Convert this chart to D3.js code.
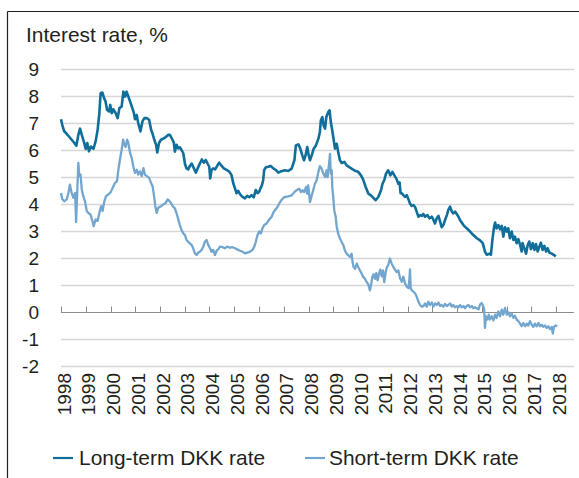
<!DOCTYPE html>
<html><head><meta charset="utf-8">
<script src="https://cdn.jsdelivr.net/npm/d3@7"></script>
<style>body{margin:0;background:#fff}svg{display:block}text{font-family:"Liberation Sans",Arial,sans-serif;fill:#231f20}</style>
</head><body>
<script>
const title = "Interest rate, %";
const seriesNames = ["Long-term DKK rate", "Short-term DKK rate"];
const yTicks = [-2, -1, 0, 1, 2, 3, 4, 5, 6, 7, 8, 9];
const xTickYears = [1998,1999,2000,2001,2002,2003,2004,2005,2006,2007,2008,2009,2010,2011,2012,2013,2014,2015,2016,2017,2018];

const longYears = [1998.00,1998.05,1998.13,1998.23,1998.32,1998.43,1998.54,1998.62,1998.70,1998.77,1998.84,1998.92,1999.00,1999.06,1999.13,1999.21,1999.31,1999.40,1999.48,1999.55,1999.60,1999.67,1999.74,1999.80,1999.86,1999.94,1999.99,2000.05,2000.11,2000.21,2000.29,2000.36,2000.45,2000.52,2000.59,2000.65,2000.72,2000.79,2000.86,2000.94,2000.99,2001.06,2001.12,2001.21,2001.29,2001.37,2001.46,2001.56,2001.64,2001.70,2001.77,2001.84,2001.89,2001.96,2002.04,2002.13,2002.23,2002.34,
2002.40,2002.51,2002.56,2002.60,2002.67,2002.74,2002.80,2002.87,2002.94,2003.01,2003.07,2003.14,2003.21,2003.28,2003.37,2003.45,2003.52,2003.61,2003.69,2003.77,2003.85,2003.92,2003.99,2004.03,2004.08,2004.15,2004.23,2004.31,2004.39,2004.49,2004.58,2004.69,2004.80,2004.89,2004.96,2005.03,2005.09,2005.16,2005.23,2005.32,2005.43,2005.52,2005.61,2005.70,2005.79,2005.87,2005.94,2006.01,2006.06,2006.12,2006.17,2006.21,2006.28,2006.37,2006.47,2006.58,2006.68,2006.78,2006.87,2006.98,
2007.05,2007.18,2007.32,2007.43,2007.49,2007.59,2007.67,2007.75,2007.82,2007.88,2007.95,2008.01,2008.06,2008.13,2008.21,2008.30,2008.40,2008.46,2008.50,2008.56,2008.61,2008.67,2008.72,2008.80,2008.85,2008.91,2008.96,2009.02,2009.07,2009.14,2009.20,2009.27,2009.34,2009.45,2009.54,2009.68,2009.81,2009.90,2010.01,2010.12,2010.21,2010.31,2010.42,2010.52,2010.62,2010.71,2010.82,2010.93,2010.99,2011.06,2011.13,2011.22,2011.31,2011.39,2011.47,2011.55,2011.63,2011.68,
2011.72,2011.77,2011.83,2011.90,2011.97,2012.04,2012.10,2012.17,2012.24,2012.31,2012.37,2012.44,2012.51,2012.58,2012.64,2012.71,2012.80,2012.89,2012.98,2013.05,2013.11,2013.18,2013.25,2013.32,2013.38,2013.45,2013.52,2013.59,2013.65,2013.72,2013.79,2013.85,2013.92,2013.99,2014.06,2014.12,2014.26,2014.39,2014.53,2014.66,2014.80,
2014.93,2015.04,2015.13,2015.20,2015.31,2015.37,2015.43,2015.50,2015.54,2015.60,2015.67,2015.74,2015.81,2015.87,2015.94,2016.01,2016.07,2016.14,2016.21,2016.28,2016.34,2016.41,2016.48,2016.55,2016.61,2016.65,2016.72,2016.79,2016.86,2016.92,2016.99,2017.06,2017.13,2017.19,2017.26,2017.33,2017.39,2017.46,2017.53,2017.60,2017.66,2017.73,2017.83,2017.92,2017.99];
const longValues = [7.14,6.93,6.69,6.60,6.50,6.38,6.26,6.16,6.56,6.79,6.56,6.32,6.04,6.26,5.95,6.13,6.04,6.32,6.75,7.36,8.10,8.13,7.92,7.80,7.49,7.43,7.67,7.36,7.51,7.36,7.18,7.55,7.61,8.16,7.98,8.16,7.98,7.80,7.61,7.39,7.14,7.30,7.00,6.69,7.06,7.18,7.18,7.12,6.75,6.60,6.38,6.20,5.91,6.26,6.38,6.42,6.48,6.56,
6.56,6.37,6.27,5.94,6.19,6.06,6.10,6.00,5.88,5.48,5.32,5.28,5.41,5.50,5.32,5.16,5.32,5.50,5.65,5.53,5.63,5.50,5.38,4.95,5.26,5.32,5.28,5.41,5.53,5.41,5.32,5.26,5.20,5.07,4.77,4.58,4.40,4.49,4.37,4.27,4.21,4.30,4.25,4.33,4.25,4.52,4.40,4.46,4.58,4.70,4.89,5.26,5.36,5.38,5.41,5.32,5.26,5.16,5.20,5.23,
5.25,5.22,5.31,5.62,6.17,6.21,6.05,5.80,5.62,5.80,6.11,5.80,5.62,5.80,6.05,6.17,6.42,6.67,7.10,7.22,6.91,6.79,7.22,7.41,7.47,6.98,6.73,6.36,6.05,6.23,5.93,5.62,5.52,5.56,5.43,5.35,5.27,5.22,5.19,5.06,4.90,4.63,4.38,4.32,4.23,4.14,4.26,4.51,4.75,4.88,5.12,5.25,5.06,5.19,5.06,4.94,4.75,4.80,
4.40,4.40,4.33,4.27,4.33,4.17,4.02,3.93,3.96,3.88,3.72,3.53,3.59,3.56,3.63,3.53,3.59,3.47,3.53,3.41,3.28,3.47,3.56,3.35,3.14,3.22,3.41,3.59,3.78,3.90,3.72,3.65,3.72,3.63,3.53,3.41,3.22,3.10,2.98,2.85,2.73,
2.65,2.55,2.24,2.12,2.16,2.12,2.67,3.16,3.31,3.10,3.22,3.06,3.19,2.79,3.14,2.98,3.10,2.73,2.98,2.67,2.79,2.55,2.70,2.49,2.24,2.55,2.36,2.16,2.49,2.61,2.33,2.55,2.30,2.52,2.24,2.43,2.57,2.30,2.45,2.24,2.36,2.20,2.16,2.11,2.06];

const shortYears = [1998.00,1998.05,1998.13,1998.23,1998.30,1998.36,1998.43,1998.50,1998.57,1998.61,1998.65,1998.70,1998.74,1998.79,1998.84,1998.90,1998.97,1999.04,1999.10,1999.19,1999.27,1999.32,1999.40,1999.48,1999.55,1999.62,1999.68,1999.75,1999.82,1999.91,2000.01,2000.09,2000.18,2000.26,2000.32,2000.38,2000.45,2000.51,2000.56,2000.61,2000.67,2000.72,2000.79,2000.86,2000.92,2000.99,2001.06,2001.12,2001.19,2001.26,2001.33,2001.39,2001.47,2001.56,2001.64,2001.70,2001.76,2001.81,2001.87,2001.93,2002.04,2002.13,2002.23,2002.31,
2002.40,2002.47,2002.53,2002.60,2002.67,2002.74,2002.80,2002.87,2002.94,2003.01,2003.07,2003.14,2003.21,2003.28,2003.34,2003.41,2003.48,2003.54,2003.61,2003.68,2003.75,2003.81,2003.88,2003.95,2004.02,2004.08,2004.15,2004.22,2004.29,2004.35,2004.42,2004.53,2004.62,2004.72,2004.82,2004.93,2005.03,2005.12,2005.23,2005.34,2005.43,2005.52,2005.63,2005.74,2005.81,2005.87,2005.94,2006.01,2006.08,2006.14,2006.21,2006.31,2006.40,2006.51,2006.60,2006.71,2006.82,2006.91,2007.01,
2007.18,2007.32,2007.43,2007.52,2007.62,2007.70,2007.76,2007.83,2007.90,2007.95,2007.99,2008.06,2008.13,2008.19,2008.26,2008.33,2008.40,2008.46,2008.53,2008.60,2008.67,2008.73,2008.77,2008.83,2008.87,2008.90,2008.94,2008.96,2009.00,2009.04,2009.10,2009.14,2009.20,2009.27,2009.34,2009.41,2009.47,2009.54,2009.61,2009.68,2009.74,2009.78,2009.82,2009.88,2009.95,2010.01,2010.08,2010.15,2010.21,2010.28,2010.35,2010.42,2010.48,2010.52,2010.58,2010.63,2010.69,2010.74,2010.79,2010.85,2010.90,2010.96,2011.01,2011.06,2011.12,2011.17,2011.22,2011.29,2011.36,2011.43,2011.49,2011.56,2011.63,
2011.70,2011.77,2011.83,2011.90,2011.97,2012.04,2012.08,2012.10,2012.13,2012.17,2012.24,2012.31,2012.37,2012.44,2012.51,2012.58,2012.64,2012.71,2012.78,2012.84,2012.91,2012.98,2013.05,2013.11,2013.18,2013.25,2013.32,2013.38,2013.45,2013.52,2013.59,2013.65,2013.72,2013.79,2013.85,2013.92,2013.99,2014.06,2014.12,2014.19,2014.26,2014.33,2014.39,2014.46,2014.53,2014.60,2014.66,2014.73,2014.80,2014.87,
2014.93,2015.00,2015.06,2015.10,2015.13,2015.17,2015.23,2015.28,2015.33,2015.40,2015.47,2015.54,2015.60,2015.67,2015.74,2015.81,2015.87,2015.94,2016.01,2016.07,2016.14,2016.21,2016.28,2016.34,2016.41,2016.48,2016.55,2016.61,2016.68,2016.75,2016.82,2016.88,2016.95,2017.02,2017.08,2017.15,2017.22,2017.29,2017.35,2017.42,2017.49,2017.56,2017.62,2017.69,2017.76,2017.83,2017.87,2017.92,2017.98,2018.05];
const shortValues = [4.41,4.19,4.10,4.17,4.41,4.72,4.41,4.23,4.41,3.33,4.29,5.52,5.03,5.09,4.53,4.29,4.10,3.74,3.67,3.61,3.37,3.18,3.43,3.37,3.67,3.92,3.74,4.10,4.29,4.35,4.44,4.60,4.78,4.84,5.27,5.64,6.01,6.38,6.20,6.11,6.38,6.26,5.89,5.70,5.40,5.15,5.27,5.09,5.21,5.03,5.33,5.09,5.03,4.97,4.78,4.66,4.29,3.92,3.67,3.86,3.92,3.98,4.04,4.17,
4.09,4.00,3.90,3.84,3.65,3.43,3.22,3.04,2.91,2.85,2.67,2.60,2.54,2.48,2.36,2.17,2.11,2.20,2.23,2.30,2.42,2.60,2.67,2.48,2.36,2.23,2.30,2.11,2.27,2.32,2.42,2.40,2.36,2.42,2.38,2.40,2.36,2.32,2.27,2.23,2.17,2.20,2.23,2.30,2.42,2.60,2.85,2.98,2.91,3.10,3.22,3.28,3.41,3.53,3.72,3.84,4.02,4.15,4.25,
4.28,4.32,4.44,4.51,4.57,4.44,4.51,4.44,4.63,4.38,4.69,4.07,4.32,4.51,4.75,4.88,5.19,5.40,5.31,5.12,5.00,5.25,5.00,5.49,5.86,5.12,5.25,4.63,4.26,3.77,3.52,3.15,2.90,2.72,2.59,2.47,2.28,2.16,2.10,2.04,2.16,1.85,1.67,1.60,1.79,1.67,1.54,1.42,1.30,1.23,1.11,1.02,0.80,0.95,1.30,1.40,1.23,1.44,1.17,1.42,1.57,1.32,1.54,1.11,1.48,1.67,1.73,1.98,1.79,1.67,1.57,1.48,1.54,
1.25,1.12,1.31,1.06,0.94,0.88,1.25,1.58,0.88,0.81,0.75,0.69,0.57,0.38,0.26,0.20,0.22,0.32,0.20,0.38,0.26,0.35,0.20,0.32,0.26,0.35,0.22,0.26,0.20,0.30,0.22,0.26,0.32,0.20,0.26,0.17,0.22,0.17,0.26,0.17,0.22,0.14,0.22,0.26,0.17,0.22,0.14,0.17,0.14,0.10,
0.27,0.33,0.21,0.09,-0.59,-0.16,-0.28,-0.10,-0.28,-0.16,-0.31,-0.10,-0.22,0.02,-0.16,0.09,-0.10,0.15,-0.10,-0.01,-0.16,-0.06,-0.22,-0.14,-0.28,-0.34,-0.43,-0.53,-0.41,-0.53,-0.43,-0.50,-0.34,-0.47,-0.55,-0.43,-0.53,-0.41,-0.53,-0.47,-0.55,-0.50,-0.59,-0.53,-0.63,-0.55,-0.80,-0.55,-0.50,-0.53];

const colors = ["#0f6e9a", "#72a6cf"];

const W = 579, H = 478;
const svg = d3.select("body").append("svg").attr("width", W).attr("height", H);

// frame
svg.append("line").attr("x1", 7.5).attr("x2", W).attr("y1", 11.5).attr("y2", 11.5).attr("stroke", "#231f20").attr("stroke-width", 1.2);
svg.append("line").attr("x1", 7.5).attr("x2", 7.5).attr("y1", 11.5).attr("y2", H).attr("stroke", "#231f20").attr("stroke-width", 1.2);

const x = d3.scaleLinear().domain([1998, 2018]).range([61, 556]);
const y = d3.scaleLinear().domain([-2, 9]).range([366, 69]);
const gridRight = 574;
const stretch = 1.047;

svg.append("text").attr("transform", `translate(26,42) scale(${stretch},1)`).attr("font-size", 20).text(title);

// grid lines
svg.append("g").selectAll("line").data(yTicks.filter(d => d !== 0)).join("line")
  .attr("x1", 61).attr("x2", gridRight)
  .attr("y1", d => Math.round(y(d)) + 0.5).attr("y2", d => Math.round(y(d)) + 0.5)
  .attr("stroke", "#d6d6d9").attr("stroke-width", 1.3);

// y labels
svg.append("g").selectAll("text").data(yTicks).join("text")
  .attr("x", 39).attr("y", d => y(d)).attr("dy", "0.35em")
  .attr("text-anchor", "end").attr("font-size", 19).text(d => d);

// zero axis with ticks
const y0 = Math.round(y(0)) + 0.5;
svg.append("line").attr("x1", 61).attr("x2", gridRight).attr("y1", y0).attr("y2", y0).attr("stroke", "#8c8c8c").attr("stroke-width", 1.2);
svg.append("g").selectAll("line").data(xTickYears).join("line")
  .attr("x1", d => Math.round(x(d)) + 0.5).attr("x2", d => Math.round(x(d)) + 0.5)
  .attr("y1", y0 - 6).attr("y2", y0).attr("stroke", "#8c8c8c").attr("stroke-width", 1);

// x labels rotated
svg.append("g").selectAll("text").data(xTickYears).join("text")
  .attr("transform", d => `translate(${x(d) + 3},373) rotate(-90)`)
  .attr("dy", "0.35em").attr("text-anchor", "end").attr("font-size", 19).text(d => d);

const line = d3.line().x(d => x(d[0])).y(d => y(d[1]));
const longData = longYears.map((t, i) => [t, longValues[i]]);
const shortData = shortYears.map((t, i) => [t, shortValues[i]]);

svg.append("path").datum(shortData).attr("d", line).attr("fill", "none")
  .attr("stroke", colors[1]).attr("stroke-width", 2.3).attr("stroke-linejoin", "round");
svg.append("path").datum(longData).attr("d", line).attr("fill", "none")
  .attr("stroke", colors[0]).attr("stroke-width", 2.6).attr("stroke-linejoin", "round");

// legend
const legendPos = [{sx: 53, tx: 79}, {sx: 305, tx: 329}];
seriesNames.forEach((name, i) => {
  const p = legendPos[i];
  svg.append("line").attr("x1", p.sx).attr("x2", p.sx + 20).attr("y1", 458).attr("y2", 458)
    .attr("stroke", colors[i]).attr("stroke-width", 2.2);
  svg.append("text").attr("transform", `translate(${p.tx},464.5) scale(${stretch},1)`)
    .attr("font-size", 20).text(name);
});
</script>
</body></html>
